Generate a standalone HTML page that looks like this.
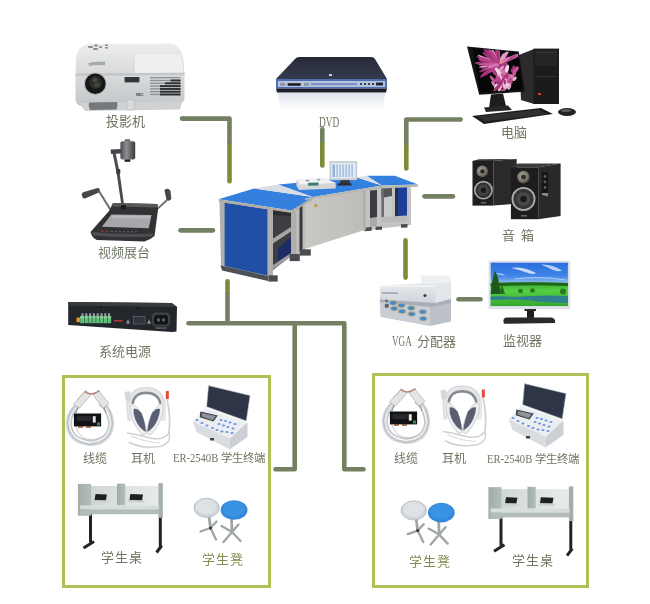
<!DOCTYPE html>
<html lang="zh-CN">
<head>
<meta charset="utf-8">
<title>系统结构图</title>
<style>
html,body{margin:0;padding:0;background:#fff;}
body{width:650px;height:604px;position:relative;overflow:hidden;font-family:"Liberation Serif",serif;}
svg.main{position:absolute;left:0;top:0;}
.lb{will-change:transform;position:absolute;font-family:"Liberation Serif",serif;font-size:13px;line-height:13px;color:#6d7560;white-space:nowrap;}
.lb.g{color:#7f8d50;}
.lb.s{font-size:12px;line-height:12px;}
.lat{display:inline-block;transform:scaleX(0.78);transform-origin:0 50%;}
</style>
</head>
<body>
<svg class="main" width="650" height="604" viewBox="0 0 650 604">
<defs>
  <linearGradient id="pjTop" x1="0" y1="0" x2="0" y2="1">
    <stop offset="0" stop-color="#eceded"/><stop offset="1" stop-color="#d6d8d9"/>
  </linearGradient>
  <linearGradient id="pjFront" x1="0" y1="0" x2="0" y2="1">
    <stop offset="0" stop-color="#dadcdd"/><stop offset="1" stop-color="#c3c6c8"/>
  </linearGradient>
  <linearGradient id="dvdTop" x1="0" y1="0" x2="0" y2="1">
    <stop offset="0" stop-color="#262a37"/><stop offset="1" stop-color="#353a4d"/>
  </linearGradient>
  <linearGradient id="dvdRefl" x1="0" y1="0" x2="0" y2="1">
    <stop offset="0" stop-color="#dde2ec"/><stop offset="1" stop-color="#ffffff"/>
  </linearGradient>
  <linearGradient id="camHead" x1="0" y1="0" x2="1" y2="0">
    <stop offset="0" stop-color="#4a4a4e"/><stop offset="0.4" stop-color="#8e8f92"/><stop offset="1" stop-color="#3a3a3e"/>
  </linearGradient>
  <linearGradient id="vgaTop" x1="0" y1="0" x2="0" y2="1">
    <stop offset="0" stop-color="#e9ecef"/><stop offset="1" stop-color="#cfd3d9"/>
  </linearGradient>
  <linearGradient id="deskPanel" x1="0" y1="0" x2="1" y2="0">
    <stop offset="0" stop-color="#c9c8c5"/><stop offset="1" stop-color="#bdbcb9"/>
  </linearGradient>
  <linearGradient id="sdBack" x1="0" y1="0" x2="1" y2="0">
    <stop offset="0" stop-color="#cfd7d3"/><stop offset="0.5" stop-color="#dde3e0"/><stop offset="1" stop-color="#e6ebe9"/>
  </linearGradient>
  <linearGradient id="sdPanel" x1="0" y1="0" x2="1" y2="0">
    <stop offset="0" stop-color="#a2ada8"/><stop offset="1" stop-color="#b4beb9"/>
  </linearGradient>
  <radialGradient id="twt" cx="0.4" cy="0.4" r="0.6">
    <stop offset="0" stop-color="#a29c90"/><stop offset="0.7" stop-color="#7d786e"/><stop offset="1" stop-color="#4a4843"/>
  </radialGradient>
  <linearGradient id="sky" x1="0" y1="0" x2="0" y2="1">
    <stop offset="0" stop-color="#2a6ee0"/><stop offset="0.3" stop-color="#3f84e6"/><stop offset="0.47" stop-color="#8ebcf0"/><stop offset="1" stop-color="#8ebcf0"/>
  </linearGradient>
  <linearGradient id="land" x1="0" y1="0" x2="0" y2="1">
    <stop offset="0" stop-color="#36a830"/><stop offset="0.35" stop-color="#55cf42"/><stop offset="1" stop-color="#34a82e"/>
  </linearGradient>
</defs>
<!-- connection lines -->
<g id="lines" fill="none" stroke-width="4.6">
  <!-- ln-olive segments (round caps) -->
  <g stroke="#7c8c37" stroke-linecap="round">
    <path d="M229.5,144 V181.3"/>
    <path d="M322.3,142.5 V165.5"/>
    <path d="M406.3,145 V168.4"/>
    <path d="M405.5,240.4 V277.6"/>
    <path d="M227.5,281.4 V293"/>
  </g>
  <!-- ln-gray segments -->
  <g stroke="#738062" stroke-linecap="round" stroke-linejoin="round">
    <path d="M180.5,230.35 H213"/>
    <path d="M424.5,196.35 H453"/>
    <path d="M458.5,299.25 H480.5"/>
    <path d="M188.5,323.3 H344.3 V469.2 H363.5"/>
    <path d="M294.7,323.3 V469.2 H275.5"/>
  </g>
  <g stroke="#738062" stroke-linecap="butt" stroke-linejoin="round">
    <path d="M182,118.6 H229.5 V144"/>
    <path d="M322.3,129.4 V142.5"/>
    <path d="M460.6,119.5 H406.3 V145"/>
    <path d="M227.5,293 V323.3"/>
  </g>
  <g fill="#738062">
    <circle cx="182" cy="118.6" r="2.3"/>
    <circle cx="322.3" cy="129.4" r="2.3"/>
    <circle cx="460.6" cy="119.5" r="2.3"/>
  </g>
</g>
<!-- projector -->
<g id="projector">
  <path d="M76,62 Q76,45 90,44 L170,43.5 Q181,44 183.5,60 L184.5,76 L75.5,77 Z" fill="url(#pjTop)"/>
  <path d="M75.5,74 L184.5,73 L184.5,99 Q183,104 177,105 L82,106.5 Q75.5,105 75.5,99 Z" fill="url(#pjFront)"/>
  <path d="M75.5,73.5 L184.5,72.5 L184.5,75 L75.5,76 Z" fill="#c4c7c9"/>
  <path d="M79,103 L182,101.5 L180,109.5 L85,111 Z" fill="#cfd1d3"/>
  <path d="M134,54.6 L180,54.6 Q183,58 183,72.5 L134,73 Z" fill="#eeefef"/>
  <path d="M134,54.6 L134,73" stroke="#cfd1d3" stroke-width="0.8"/>
  <path d="M88.4,63 Q96,61.2 105.3,61.8 L105,65.3 Q96,64.6 89,66 Z" fill="#a6a9ac"/>
  <g fill="#8a8d90">
    <rect x="88" y="46" width="5" height="2" rx="1"/><rect x="94" y="44.5" width="4" height="2" rx="1"/>
    <rect x="93" y="48" width="5" height="2" rx="1"/><rect x="99" y="46" width="3" height="2" rx="1"/>
    <rect x="105" y="44.5" width="3" height="1.5"/><rect x="105" y="47" width="3" height="1.5"/>
  </g>
  <circle cx="95.3" cy="83.7" r="11.2" fill="#b5b8ba"/>
  <circle cx="95.3" cy="83.7" r="10.3" fill="#161718"/>
  <circle cx="95.5" cy="82.5" r="6.5" fill="#2c2e2c"/>
  <ellipse cx="95" cy="80" rx="2.5" ry="2" fill="#5d4448"/>
  <ellipse cx="97" cy="85" rx="3" ry="2.5" fill="#3c4a3a"/>
  <rect x="124.6" y="77" width="14.8" height="5.4" fill="#34373a"/>
  <path d="M89,102.5 L117,102 Q118,106 116.5,109.5 L90,110 Q88,106 89,102.5 Z" fill="#76797c"/>
  <rect x="127" y="100" width="7" height="10" rx="1" fill="#d8dadb" stroke="#b8bbbd" stroke-width="0.6"/>
  <g fill="#8d9093">
    <rect x="150" y="77" width="30.5" height="1.3"/>
    <rect x="150" y="79.8" width="30.5" height="1.3"/>
    <rect x="150" y="82.6" width="30.5" height="1.3"/>
    <rect x="150" y="85.4" width="30.5" height="1.3"/>
    <rect x="150" y="88.2" width="30.5" height="1.3"/>
    <rect x="150" y="91" width="30.5" height="1.3"/>
    <rect x="150" y="93.8" width="30.5" height="1.3"/>
  </g>
  <g fill="#2e3033">
    <rect x="170.5" y="79.5" width="10" height="2"/>
    <rect x="165" y="82.3" width="15.5" height="2"/>
    <rect x="160" y="85.1" width="20.5" height="2"/>
    <rect x="160" y="87.9" width="20.5" height="2"/>
    <rect x="160" y="90.7" width="20.5" height="2"/>
    <rect x="160" y="93.5" width="20.5" height="2"/>
  </g>
  <text x="136" y="95.5" font-size="3.6" font-family="Liberation Sans" font-weight="bold" fill="#444">NEC</text>
</g>
<!-- DVD -->
<g id="dvd">
  <path d="M299,57 L371,57 Q374,57 375,59 L387,79 L276,79 L295,59 Q296.5,57 299,57 Z" fill="url(#dvdTop)"/>
  <path d="M276,79 L387,79 L387,88.5 L276,88.5 Z" fill="#4c6fb2"/>
  <path d="M278,81 L385,81 L385,87 L278,87 Z" fill="#b7c3da"/>
  <rect x="287.5" y="83.2" width="13.4" height="2.6" rx="1" fill="#15161c"/>
  <rect x="280" y="82.8" width="5" height="3" fill="#8d97ab"/>
  <rect x="304" y="82.8" width="5" height="3" fill="#8d97ab"/>
  <rect x="311" y="83" width="46" height="2.2" fill="#7e95c4"/>
  <g fill="#3a4258"><rect x="360" y="83" width="2" height="2"/><rect x="364" y="83" width="2" height="2"/><rect x="368" y="83" width="2" height="2"/><rect x="372" y="83" width="2" height="2"/></g>
  <rect x="376" y="82.5" width="7" height="3" fill="#20263a"/>
  <path d="M276,88.5 L387,88.5 L386,92.5 L277,92.5 Z" fill="#1a1c26"/>
  <path d="M278,93 L385,93 L383,110 L280,110 Z" fill="url(#dvdRefl)"/>
  <rect x="329" y="74" width="3" height="2" fill="#c8cde0"/>
</g>
<!-- computer -->
<g id="computer">
  <path d="M519,55 L534,49 L534,104 L521,100 Z" fill="#2b2b2d"/>
  <rect x="533.5" y="48.6" width="25.5" height="55.4" fill="#1b1b1c"/>
  <rect x="535" y="50" width="22.5" height="16" fill="#252527"/>
  <rect x="536" y="52" width="20" height="0.8" fill="#3a3a3c"/>
  <rect x="536" y="76" width="20" height="0.8" fill="#3a3a3c"/>
  <rect x="538" y="93" width="3" height="2" fill="#d23a2a"/>
  <path d="M467,46.6 L518.8,51.6 L524.9,91.7 L479.2,94.8 Z" fill="#141415"/>
  <path d="M472.6,48.1 L517.8,52.7 L522.9,89.7 L480.2,92.3 Z" fill="#060607"/>
  <clipPath id="scrClip"><path d="M472.6,48.1 L517.8,52.7 L522.9,89.7 L480.2,92.3 Z"/></clipPath>
  <g clip-path="url(#scrClip)">
    <ellipse cx="500" cy="68" rx="9" ry="9" fill="#a83c7e"/>
    <ellipse cx="504" cy="80" rx="9" ry="8" fill="#b84a8c"/>
    <ellipse cx="493.0" cy="56.6" rx="8.7" ry="1.9" transform="rotate(-129 493.0 56.6)" fill="#e39ac6"/>
    <ellipse cx="491.4" cy="54.7" rx="10.9" ry="1.3" transform="rotate(-129 491.4 54.7)" fill="#93306a"/>
    <ellipse cx="494.3" cy="55.0" rx="9.2" ry="1.8" transform="rotate(-118 494.3 55.0)" fill="#b8428a"/>
    <ellipse cx="495.1" cy="59.3" rx="5.6" ry="1.6" transform="rotate(-130 495.1 59.3)" fill="#cf64a6"/>
    <ellipse cx="498.2" cy="54.2" rx="9.0" ry="1.5" transform="rotate(-94 498.2 54.2)" fill="#e39ac6"/>
    <ellipse cx="498.9" cy="54.0" rx="9.1" ry="1.2" transform="rotate(-91 498.9 54.0)" fill="#b8428a"/>
    <ellipse cx="502.0" cy="59.4" rx="5.0" ry="1.1" transform="rotate(-57 502.0 59.4)" fill="#c8559c"/>
    <ellipse cx="496.8" cy="52.8" rx="10.3" ry="1.4" transform="rotate(-101 496.8 52.8)" fill="#a33477"/>
    <ellipse cx="504.3" cy="56.4" rx="8.4" ry="1.7" transform="rotate(-55 504.3 56.4)" fill="#e39ac6"/>
    <ellipse cx="494.3" cy="67.2" rx="5.1" ry="1.7" transform="rotate(-214 494.3 67.2)" fill="#e39ac6"/>
    <ellipse cx="510.9" cy="58.3" rx="12.0" ry="1.9" transform="rotate(-25 510.9 58.3)" fill="#cf64a6"/>
    <ellipse cx="488.1" cy="61.4" rx="10.2" ry="1.6" transform="rotate(-167 488.1 61.4)" fill="#b8428a"/>
    <ellipse cx="488.5" cy="68.2" rx="10.2" ry="1.5" transform="rotate(-202 488.5 68.2)" fill="#93306a"/>
    <ellipse cx="493.8" cy="62.1" rx="5.0" ry="1.1" transform="rotate(-160 493.8 62.1)" fill="#cf64a6"/>
    <ellipse cx="493.5" cy="67.8" rx="6.1" ry="1.9" transform="rotate(-215 493.5 67.8)" fill="#e39ac6"/>
    <ellipse cx="490.3" cy="57.6" rx="9.8" ry="1.5" transform="rotate(-144 490.3 57.6)" fill="#a33477"/>
    <ellipse cx="497.9" cy="52.7" rx="10.3" ry="1.3" transform="rotate(-95 497.9 52.7)" fill="#b8428a"/>
    <ellipse cx="494.4" cy="61.9" rx="4.6" ry="1.5" transform="rotate(-156 494.4 61.9)" fill="#b8428a"/>
    <ellipse cx="488.4" cy="65.8" rx="9.8" ry="1.1" transform="rotate(-189 488.4 65.8)" fill="#e39ac6"/>
    <ellipse cx="501.9" cy="58.3" rx="5.8" ry="1.6" transform="rotate(-64 501.9 58.3)" fill="#e39ac6"/>
    <ellipse cx="492.8" cy="52.5" rx="11.9" ry="1.8" transform="rotate(-118 492.8 52.5)" fill="#e39ac6"/>
    <ellipse cx="498.7" cy="58.1" rx="5.4" ry="1.5" transform="rotate(-93 498.7 58.1)" fill="#c8559c"/>
    <ellipse cx="489.1" cy="70.9" rx="11.0" ry="2.0" transform="rotate(-215 489.1 70.9)" fill="#a33477"/>
    <ellipse cx="487.7" cy="59.3" rx="11.1" ry="1.3" transform="rotate(-157 487.7 59.3)" fill="#e39ac6"/>
    <ellipse cx="507.9" cy="59.7" rx="9.0" ry="1.6" transform="rotate(-26 507.9 59.7)" fill="#b8428a"/>
    <ellipse cx="505.0" cy="61.0" rx="6.1" ry="1.3" transform="rotate(-27 505.0 61.0)" fill="#93306a"/>
    <ellipse cx="497.1" cy="52.3" rx="10.7" ry="1.4" transform="rotate(-99 497.1 52.3)" fill="#b8428a"/>
    <ellipse cx="489.7" cy="67.0" rx="8.9" ry="1.3" transform="rotate(-198 489.7 67.0)" fill="#a33477"/>
    <ellipse cx="490.7" cy="58.2" rx="9.2" ry="1.2" transform="rotate(-145 490.7 58.2)" fill="#a33477"/>
    <ellipse cx="493.7" cy="55.9" rx="8.8" ry="1.9" transform="rotate(-123 493.7 55.9)" fill="#c8559c"/>
    <ellipse cx="498.2" cy="56.5" rx="6.8" ry="1.3" transform="rotate(-96 498.2 56.5)" fill="#a33477"/>
    <ellipse cx="492.6" cy="62.6" rx="5.9" ry="1.8" transform="rotate(-168 492.6 62.6)" fill="#a33477"/>
    <ellipse cx="486.2" cy="63.5" rx="11.6" ry="1.9" transform="rotate(-178 486.2 63.5)" fill="#a33477"/>
    <ellipse cx="494.0" cy="65.8" rx="4.9" ry="1.2" transform="rotate(-200 494.0 65.8)" fill="#a33477"/>
    <ellipse cx="504.9" cy="60.3" rx="6.3" ry="1.7" transform="rotate(-32 504.9 60.3)" fill="#d676b0"/>
    <ellipse cx="490.2" cy="55.2" rx="11.3" ry="1.5" transform="rotate(-135 490.2 55.2)" fill="#a33477"/>
    <ellipse cx="488.1" cy="64.3" rx="9.9" ry="1.2" transform="rotate(-182 488.1 64.3)" fill="#c8559c"/>
    <ellipse cx="493.2" cy="55.4" rx="9.4" ry="1.7" transform="rotate(-124 493.2 55.4)" fill="#b8428a"/>
    <ellipse cx="487.1" cy="60.1" rx="11.4" ry="1.3" transform="rotate(-162 487.1 60.1)" fill="#b8428a"/>
    <ellipse cx="491.3" cy="67.1" rx="7.6" ry="1.3" transform="rotate(-202 491.3 67.1)" fill="#b8428a"/>
    <ellipse cx="491.0" cy="64.2" rx="7.3" ry="1.6" transform="rotate(-182 491.0 64.2)" fill="#c8559c"/>
    <ellipse cx="493.2" cy="65.8" rx="5.5" ry="1.5" transform="rotate(-197 493.2 65.8)" fill="#d676b0"/>
    <ellipse cx="507.8" cy="83.2" rx="2.9" ry="1.1" transform="rotate(-77 507.8 83.2)" fill="#c8559c"/>
    <ellipse cx="503.4" cy="75.9" rx="2.6" ry="1.6" transform="rotate(-102 503.4 75.9)" fill="#c8559c"/>
    <ellipse cx="503.6" cy="84.1" rx="5.0" ry="1.2" transform="rotate(-101 503.6 84.1)" fill="#e9b9d2"/>
    <ellipse cx="500.8" cy="69.0" rx="4.3" ry="1.2" transform="rotate(-46 500.8 69.0)" fill="#e6a8cc"/>
    <ellipse cx="500.4" cy="83.1" rx="4.7" ry="1.5" transform="rotate(-49 500.4 83.1)" fill="#a33477"/>
    <ellipse cx="492.7" cy="79.0" rx="4.2" ry="1.4" transform="rotate(-129 492.7 79.0)" fill="#c8559c"/>
    <ellipse cx="506.6" cy="69.8" rx="5.0" ry="1.9" transform="rotate(-72 506.6 69.8)" fill="#f1dbe6"/>
    <ellipse cx="499.9" cy="88.6" rx="3.6" ry="1.5" transform="rotate(-68 499.9 88.6)" fill="#e9b9d2"/>
    <ellipse cx="494.0" cy="84.5" rx="4.0" ry="1.5" transform="rotate(-127 494.0 84.5)" fill="#d676b0"/>
    <ellipse cx="515.0" cy="70.5" rx="4.2" ry="1.5" transform="rotate(-60 515.0 70.5)" fill="#c8559c"/>
    <ellipse cx="500.8" cy="71.2" rx="3.8" ry="1.8" transform="rotate(-75 500.8 71.2)" fill="#e6a8cc"/>
    <ellipse cx="507.8" cy="77.7" rx="3.3" ry="1.7" transform="rotate(-50 507.8 77.7)" fill="#d676b0"/>
    <ellipse cx="507.2" cy="85.7" rx="3.0" ry="1.3" transform="rotate(-62 507.2 85.7)" fill="#d676b0"/>
    <ellipse cx="506.0" cy="75.0" rx="3.7" ry="1.9" transform="rotate(-118 506.0 75.0)" fill="#a33477"/>
    <ellipse cx="493.0" cy="69.4" rx="4.6" ry="1.2" transform="rotate(-42 493.0 69.4)" fill="#b8428a"/>
    <ellipse cx="498.6" cy="72.7" rx="4.1" ry="1.5" transform="rotate(-93 498.6 72.7)" fill="#e6a8cc"/>
    <ellipse cx="509.2" cy="86.5" rx="3.3" ry="1.8" transform="rotate(-74 509.2 86.5)" fill="#e6a8cc"/>
    <ellipse cx="512.9" cy="68.9" rx="3.9" ry="1.4" transform="rotate(-66 512.9 68.9)" fill="#a33477"/>
    <ellipse cx="505.5" cy="82.1" rx="3.0" ry="1.8" transform="rotate(-94 505.5 82.1)" fill="#e6a8cc"/>
    <ellipse cx="497.7" cy="71.1" rx="4.1" ry="1.5" transform="rotate(-126 497.7 71.1)" fill="#f1dbe6"/>
    <ellipse cx="504.8" cy="82.1" rx="2.7" ry="1.3" transform="rotate(-97 504.8 82.1)" fill="#a33477"/>
    <ellipse cx="503.4" cy="71.9" rx="3.7" ry="1.7" transform="rotate(-129 503.4 71.9)" fill="#d676b0"/>
    <ellipse cx="497.4" cy="85.1" rx="4.9" ry="1.6" transform="rotate(-81 497.4 85.1)" fill="#a33477"/>
    <ellipse cx="495.8" cy="86.7" rx="3.1" ry="1.5" transform="rotate(-67 495.8 86.7)" fill="#f1dbe6"/>
    <ellipse cx="501.3" cy="77.9" rx="4.7" ry="1.1" transform="rotate(-112 501.3 77.9)" fill="#e9b9d2"/>
    <ellipse cx="505.7" cy="87.3" rx="4.9" ry="1.5" transform="rotate(-58 505.7 87.3)" fill="#f1dbe6"/>
    <ellipse cx="515.6" cy="70.2" rx="4.5" ry="1.9" transform="rotate(-52 515.6 70.2)" fill="#c8559c"/>
    <ellipse cx="497.1" cy="87.8" rx="4.9" ry="1.6" transform="rotate(-42 497.1 87.8)" fill="#a33477"/>
    <ellipse cx="514.4" cy="73.8" rx="2.5" ry="1.6" transform="rotate(-65 514.4 73.8)" fill="#c8559c"/>
    <ellipse cx="502.6" cy="80.1" rx="3.7" ry="1.1" transform="rotate(-61 502.6 80.1)" fill="#a33477"/>
    <ellipse cx="512.8" cy="77.4" rx="3.8" ry="1.7" transform="rotate(-127 512.8 77.4)" fill="#d676b0"/>
    <ellipse cx="503.3" cy="90.0" rx="3.8" ry="1.7" transform="rotate(-49 503.3 90.0)" fill="#b8428a"/>
    <ellipse cx="514.7" cy="78.8" rx="2.7" ry="1.3" transform="rotate(-45 514.7 78.8)" fill="#e9b9d2"/>
    <ellipse cx="505.4" cy="86.3" rx="2.9" ry="1.6" transform="rotate(-79 505.4 86.3)" fill="#e9b9d2"/>
    <circle cx="501" cy="62" r="1.6" fill="#d39a7e"/>
  </g>
  <path d="M491,94.5 L503,93.5 L506,106 L489,108 Z" fill="#1d1d1f"/>
  <path d="M484,107.5 L508,105.5 L512,110 L486,112 Z" fill="#262628"/>
  <path d="M472,116 L541,108 L553,114 L484,124 Z" fill="#1c1c1d"/>
  <path d="M477,116.5 L539,109.5 L547,114 L485,121.5 Z" fill="#303032"/>
  <ellipse cx="567" cy="112" rx="9" ry="4" fill="#222224"/>
  <ellipse cx="566" cy="110.5" rx="5" ry="1.5" fill="#5a5a5c"/>
</g>
<!-- doc camera -->
<g id="doccam">
  <path d="M110.6,149.5 L121,149 L121,153.5 L111,154 Z" fill="#46464a"/>
  <path d="M112.5,153 L115.5,152.5 L119.5,172 L124.5,207.5 L121.8,208 L116.5,172.5 Z" fill="#4c4c50"/>
  <rect x="116.3" y="169" width="4" height="5" rx="1" fill="#3c3c40"/>
  <rect x="124.6" y="139.2" width="5.7" height="2.6" rx="1" fill="#6a6a6e"/>
  <rect x="120.4" y="141.3" width="14.8" height="18.3" rx="2" fill="url(#camHead)"/>
  <rect x="124.6" y="159.4" width="5.7" height="2.4" fill="#1f1f22"/>
  <path d="M82,195.5 Q81,193 84,192 L97.5,188 Q100,188 100,190.5 L99,192.5 L85,198.5 Q82.5,199 82,195.5 Z" fill="#48484b"/>
  <path d="M98,191.5 L99.8,190.5 L111.2,209 L109.4,210 Z" fill="#707074"/>
  <path d="M164.5,190.5 Q165,188.5 167.5,188.7 Q170,189 170.5,191 L171.3,198.5 Q170.5,201 168,200.8 L166.5,200 Z" fill="#48484b"/>
  <path d="M166.2,199.5 L167.8,200.8 L155.5,211.8 L154,210.8 Z" fill="#707074"/>
  <path d="M113,203 L157.5,204 L158,210 L154.5,236 Q150,240 144.5,241.5 L97,240 Q92,238 90.5,232 L109,211 Z" fill="#323235"/>
  <path d="M113,203 L157.5,204 L157.8,207.5 L112.3,206.5 Z" fill="#58585c"/>
  <path d="M111.4,214.4 L151.6,215.1 L148.7,228.2 L101.9,226.8 Z" fill="#a6a7aa"/>
  <path d="M112.5,215.5 L150.3,216.1 L149.7,218.5 L111,218 Z" fill="#b8b9bb"/>
  <path d="M92,232 Q120,235 153.5,233.5 L152.5,236.5 Q120,238.5 93.5,235.5 Z" fill="#4e4e52"/>
  <g fill="#8a3a34"><rect x="101" y="230.2" width="2.5" height="1.5"/><rect x="105.5" y="230.5" width="2" height="1.4"/></g>
  <g fill="#5e5e62"><rect x="111" y="230.8" width="2" height="1.2"/><rect x="115" y="231" width="2" height="1.2"/><rect x="119" y="231.1" width="2" height="1.2"/><rect x="123" y="231.2" width="2" height="1.2"/><rect x="127" y="231.2" width="2" height="1.2"/><rect x="131" y="231.2" width="2" height="1.2"/><rect x="135" y="231.1" width="2" height="1.2"/></g>
  <rect x="121" y="205" width="5" height="4" fill="#1e1e20"/>
</g>
<!-- speakers -->
<g id="speakers">
  <path d="M472.5,161 L479,159.3 L516.7,159 L493.3,161 Z" fill="#3a3a3c"/>
  <rect x="472.5" y="160.9" width="20.8" height="44.7" fill="#1f1f20"/>
  <path d="M493.3,161 L516.7,159 L516.7,203.6 L493.3,205.6 Z" fill="#2a2a2b"/>
  <g stroke="#323234" stroke-width="0.5"><path d="M498,161 V205"/><path d="M503,160.5 V204.5"/><path d="M509,160 V204"/><path d="M513,159.5 V203.8"/></g>
  <circle cx="482.4" cy="171.4" r="5.8" fill="url(#twt)"/>
  <circle cx="482.4" cy="171.4" r="2.2" fill="#2a2927"/>
  <circle cx="483.4" cy="190.2" r="9.4" fill="#aaa7a1"/>
  <circle cx="483.4" cy="190.2" r="7.8" fill="#333335"/>
  <circle cx="483.4" cy="190.2" r="5.5" fill="#434345"/>
  <circle cx="483.4" cy="190.2" r="2.6" fill="#1b1b1c"/>
  <rect x="481" y="202" width="5" height="1.5" fill="#666"/>
  <path d="M510.9,167.3 L518,163.5 L560.6,163.5 L538.2,167.3 Z" fill="#3c3c3e"/>
  <rect x="510.9" y="167.3" width="27.3" height="51.9" fill="#1d1d1e"/>
  <path d="M538.2,167.3 L560.6,163.5 L560.6,216 L538.2,219.2 Z" fill="#29292a"/>
  <g stroke="#323234" stroke-width="0.5"><path d="M552,166 V217"/><path d="M556,165 V216.5"/></g>
  <rect x="542" y="172.2" width="6" height="20.8" fill="#141415"/>
  <circle cx="545" cy="176.5" r="1.4" fill="#5e5e60"/>
  <circle cx="545" cy="182" r="1.4" fill="#5e5e60"/>
  <circle cx="545" cy="187.5" r="1.4" fill="#5e5e60"/>
  <path d="M542,193 L548,193 L548,196.5 L542,195 Z" fill="#8a8a8c"/>
  <circle cx="523.5" cy="177.1" r="6.3" fill="url(#twt)"/>
  <circle cx="523.5" cy="177.1" r="2.4" fill="#2c2b29"/>
  <circle cx="523.5" cy="199" r="12" fill="#b0ada7"/>
  <circle cx="523.5" cy="199" r="10.2" fill="#353537"/>
  <circle cx="523.5" cy="199" r="7" fill="#48484a"/>
  <circle cx="523.5" cy="199" r="3.2" fill="#1b1b1c"/>
  <rect x="521" y="215" width="6" height="1.6" fill="#666"/>
</g>
<!-- power supply -->
<g id="power">
  <path d="M68.2,302 L171.7,303 L177,307 L176.5,331.5 L172,332 L68.2,325 Z" fill="#23272b"/>
  <path d="M68.2,302 L171.7,303 L177,307 L70,305.5 Z" fill="#383c41"/>
  <circle cx="101" cy="307.5" r="0.9" fill="#111"/>
  <circle cx="138" cy="308.5" r="0.9" fill="#111"/>
  <rect x="76.5" y="317.5" width="3.4" height="4.6" fill="#e39b2e"/>
  <rect x="80.2" y="316.2" width="30.9" height="7" fill="#62bf7c"/>
  <rect x="80.2" y="316.2" width="30.9" height="2" fill="#8fd9a0"/>
  <g fill="#9aa3ad">
    <rect x="81.5" y="313.3" width="2" height="3"/><rect x="85.3" y="313.3" width="2" height="3"/>
    <rect x="89.1" y="313.3" width="2" height="3"/><rect x="92.9" y="313.3" width="2" height="3"/>
    <rect x="96.7" y="313.3" width="2" height="3"/><rect x="100.5" y="313.3" width="2" height="3"/>
    <rect x="104.3" y="313.3" width="2" height="3"/><rect x="108.1" y="313.3" width="2" height="3"/>
  </g>
  <g fill="#2f6b45">
    <rect x="84.1" y="316.5" width="0.8" height="6.5"/><rect x="87.9" y="316.5" width="0.8" height="6.5"/>
    <rect x="91.7" y="316.5" width="0.8" height="6.5"/><rect x="95.5" y="316.5" width="0.8" height="6.5"/>
    <rect x="99.3" y="316.5" width="0.8" height="6.5"/><rect x="103.1" y="316.5" width="0.8" height="6.5"/>
    <rect x="106.9" y="316.5" width="0.8" height="6.5"/>
  </g>
  <rect x="113.9" y="320" width="9" height="1.6" fill="#a83838"/>
  <path d="M126,323.5 L128,319 L130,323.5 Z" fill="#8d9298"/>
  <path d="M147,323.8 L149,319.3 L151,323.8 Z" fill="#8d9298"/>
  <rect x="133.5" y="316.5" width="11.5" height="7.5" fill="#30343a" stroke="#6a7078" stroke-width="0.6"/>
  <path d="M154,312.6 L168,312.6 L170.3,315.5 L170.3,323.5 L168,326.5 L154,326.5 L151.9,323.5 L151.9,315.5 Z" fill="#3c4146"/>
  <path d="M155.5,315 L166.5,315 L168,317 L168,323 L166.5,324.5 L155.5,324.5 L154,323 L154,317 Z" fill="#121416"/>
  <rect x="157.5" y="318.5" width="2" height="3" fill="#7b8086"/>
  <rect x="162.5" y="318.5" width="2" height="3" fill="#7b8086"/>
  <rect x="155.5" y="327.3" width="11" height="1.5" fill="#5d6268"/>
</g>
<!-- VGA splitter -->
<g id="vga">
  <path d="M420,275.5 L448,275.5 Q451,277 451,281 L422.4,283 Z" fill="#eeeff1"/>
  <path d="M379.9,286 L422.4,283 L451,281.5 L451,299 L435.3,304.5 L379.9,302.6 Z" fill="url(#vgaTop)"/>
  <path d="M379.9,285.5 L435.3,285.5 L435.3,287 L379.9,287 Z" fill="#f3f4f6"/>
  <path d="M435.3,286 L451,281.5 L451,299 L435.3,304.5 Z" fill="#e3e6ea"/>
  <circle cx="425" cy="295.5" r="1.6" fill="#3b3e46"/>
  <path d="M382,292 L398,292.5 L398,294 L382,293.5 Z" fill="#9aa1ad"/>
  <path d="M379.9,299.5 L435.3,303 L451,299 L451,305.5 L435.3,310 L379.9,304 Z" fill="#a9afb8"/>
  <path d="M379.9,302 L430,307 L430,326 L380.5,317 Z" fill="#c9ced5"/>
  <path d="M430,307 L451,303 L451,321.5 L430,326 Z" fill="#bcc1c8"/>
  <g>
    <ellipse cx="393.2" cy="302.9" rx="4.2" ry="2.7" fill="#b9ac90"/>
    <ellipse cx="401.5" cy="305.2" rx="4.2" ry="2.7" fill="#b9ac90"/>
    <ellipse cx="411.2" cy="308" rx="4.2" ry="2.7" fill="#b9ac90"/>
    <ellipse cx="422.8" cy="311.7" rx="4.2" ry="2.7" fill="#b9ac90"/>
    <ellipse cx="394.2" cy="308.5" rx="4.2" ry="2.7" fill="#b9ac90"/>
    <ellipse cx="402" cy="311.2" rx="4.2" ry="2.7" fill="#b9ac90"/>
    <ellipse cx="411.7" cy="314" rx="4.2" ry="2.7" fill="#b9ac90"/>
    <ellipse cx="423.2" cy="318.6" rx="4.2" ry="2.7" fill="#b9ac90"/>
    <ellipse cx="393.2" cy="302.9" rx="3" ry="1.8" fill="#3f8bcc"/>
    <ellipse cx="401.5" cy="305.2" rx="3" ry="1.8" fill="#3f8bcc"/>
    <ellipse cx="411.2" cy="308" rx="3" ry="1.8" fill="#3f8bcc"/>
    <ellipse cx="422.8" cy="311.7" rx="3" ry="1.8" fill="#3f8bcc"/>
    <ellipse cx="394.2" cy="308.5" rx="3" ry="1.8" fill="#3f8bcc"/>
    <ellipse cx="402" cy="311.2" rx="3" ry="1.8" fill="#3f8bcc"/>
    <ellipse cx="411.7" cy="314" rx="3" ry="1.8" fill="#3f8bcc"/>
    <ellipse cx="423.2" cy="318.6" rx="3" ry="1.8" fill="#3f8bcc"/>
    </g>
  <circle cx="386.6" cy="300.8" r="1.3" fill="#5a6070"/>
  <circle cx="386.8" cy="305.7" r="2.2" fill="#5d6472"/>
</g>
<!-- monitor -->
<g id="monitor">
  <rect x="488.6" y="260.8" width="81.6" height="48.2" fill="#dde1e6"/>
  <rect x="490.7" y="262.7" width="77.2" height="43.4" fill="url(#sky)"/>
  <path d="M511,268 Q522,266 536,273 Q533,275 528,273 Q520,270 511,268 Z" fill="#dfeafb" opacity="0.85"/>
  <path d="M541,264.5 Q552,264 562,270.5 Q558,272 553,270 Q547,267 541,264.5 Z" fill="#dfeafb" opacity="0.8"/>
  <path d="M495,273.5 Q501,272.5 506,275.5 Q500,275.5 495,273.5 Z" fill="#dfeafb" opacity="0.7"/>
  <path d="M515,279 Q540,276 566,280" stroke="#c5dcf6" stroke-width="1.2" fill="none" opacity="0.7"/>
  <path d="M490.7,283.3 Q525,281.5 567.9,283 L567.9,306.1 L490.7,306.1 Z" fill="url(#land)"/>
  <path d="M490.7,283.3 Q525,281.5 567.9,283 L567.9,286 Q525,284.5 490.7,286.5 Z" fill="#1f651c"/>
  <path d="M490.7,296.5 Q505,296 515,297 Q540,294.5 567.9,296 L567.9,303 Q545,302.5 530,300.5 Q510,299 490.7,300 Z" fill="#2f7f8c"/>
  <path d="M490.7,294 L492.5,279 L495,270.5 L498,278 L501,294 Z" fill="#1d5a1a"/>
  <path d="M499,294 L502,284 L505,294 Z" fill="#2a6a22"/>
  <ellipse cx="520.5" cy="291" rx="2.5" ry="2.2" fill="#2a7a22"/>
  <ellipse cx="532.5" cy="290.5" rx="2.5" ry="2.2" fill="#2a7a22"/>
  <ellipse cx="563" cy="291.5" rx="3" ry="3" fill="#2a7a22"/>
  <path d="M527,309 L534,309 L534,318 L527,318 Z" fill="#1d1d1e"/>
  <path d="M524.5,309 L536,309 L536,311 L524.5,311 Z" fill="#2a2a2b"/>
  <path d="M507,317.5 L551,317.5 Q556,318 555,323 L504,323.8 Q502,318 507,317.5 Z" fill="#2a2a2b"/>
</g>
<!-- teacher desk -->
<g id="desk">
  <!-- right cabinet -->
  <path d="M364,189 L411,185.5 L411,225 L381,228.5 L364,231 Z" fill="#c3c3c3"/>
  <path d="M370,190.5 L377,190 L377,225 L370,226.5 Z" fill="#3c3d40"/>
  <path d="M370,218 L377,217 L377,225 L370,226.5 Z" fill="#a9aaac"/>
  <path d="M381.4,188.5 L392,188 L392,217 L381.4,218 Z" fill="#c9cacb"/>
  <path d="M381.4,188.5 L392,188 L392,196 L381.4,198 Z" fill="#55565a"/>
  <path d="M381.4,188.5 L384,188.4 L384,218 L381.4,218 Z" fill="#6a6b6e"/>
  <path d="M395,187.8 L407,187.3 L407,216 L395,216.8 Z" fill="#1d3f98"/>
  <path d="M395,187.8 L398,187.7 L398,216.6 L395,216.8 Z" fill="#2a2f3c"/>
  <path d="M381.4,217 L407,215.5 L407,221 L381.4,222.5 Z" fill="#b9babb"/>
  <path d="M401,224.3 L407.5,224 L407.5,227.4 L401,227.7 Z" fill="#4a4c51"/>
  <path d="M375.6,226.8 L382,226.5 L382,229.7 L375.6,230 Z" fill="#4a4c51"/>
  <path d="M364.6,227.4 L371.6,227 L371.6,230.8 L364.6,231.2 Z" fill="#4a4c51"/>
  <!-- center panel -->
  <path d="M305,198.5 L366,189.5 L366,229.5 L305,249 Z" fill="url(#deskPanel)"/>
  <path d="M363,190 L366,189.5 L366,229.5 L363,230.5 Z" fill="#b0b0b0"/>
  <circle cx="315.8" cy="205.5" r="1.7" fill="#b3a447"/>
  <!-- narrow cabinet between wings -->
  <path d="M296,205 L305.3,201 L305.3,252 L296,256 Z" fill="#bdbcba"/>
  <path d="M299.5,204 L302.5,203 L302.5,250 L299.5,251.5 Z" fill="#3a3b3e"/>
  <path d="M299.8,249.3 L310.8,249.3 L310.8,255.6 L299.8,255.6 Z" fill="#4a4c51"/>
  <!-- left wing cabinet -->
  <path d="M273,210 L291,212 L291,256 L273,270 Z" fill="#3d3e41"/>
  <path d="M273,210 L291,212 L291,216 L273,215 Z" fill="#2c2d30"/>
  <path d="M278,248 L291,237 L291,253 L278,264 Z" fill="#1f2d66"/>
  <path d="M273,238.5 L291,227 L291,231.5 L273,243.5 Z" fill="#a5a5a5"/>
  <path d="M273,265 L291,253 L291,256.5 L273,269.5 Z" fill="#9c9c9c"/>
  <path d="M291,211.5 L296,211 L296,257 L291,258.5 Z" fill="#b0aeab"/>
  <path d="M289.6,254 L299.8,254 L299.8,261.1 L289.6,261.1 Z" fill="#4a4c51"/>
  <path d="M219.5,201 L273,209.5 L273,277 L221,267.5 Z" fill="#b2b0ac"/>
  <path d="M224.6,202.8 L267.4,209.2 L267.4,275.5 L224.6,266 Z" fill="#1f4fa6"/>
  <path d="M220.5,265.5 L268,276 L268,281 L222,270.5 Z" fill="#4d5056"/>
  <path d="M268.3,275.3 L277.7,275.3 L277.7,281.6 L268.3,281.6 Z" fill="#4a4c51"/>
  <!-- top surfaces -->
  <path d="M218.5,199.2 L254,188.5 L313,197 L291.5,210.5 Z" fill="#3380df"/>
  <path d="M218.5,199.2 L291.5,210.5 L291.5,213 L219,201.8 Z" fill="#b2ada4"/>
  <path d="M291.5,210.5 L313,197 L313,199.5 L291.5,213 Z" fill="#aeaca8"/>
  <path d="M254,188.5 L278.5,184.5 L313,197 Z" fill="#dadee4"/>
  <path d="M278.5,184.5 L356,177.2 L382,185.5 L313,197 Z" fill="#3380df"/>
  <path d="M313,197 L382,185.5 L382,188 L305,200 L305,198.2 Z" fill="#b8b6b1"/>
  <path d="M356,177.2 L367,175.8 L382,185.5 Z" fill="#dadee4"/>
  <path d="M367,175.8 L394.8,175.8 L418,184.5 L382,185.5 Z" fill="#3380df"/>
  <path d="M382,185.5 L418,184.5 L418,186.8 L382,188 Z" fill="#b8b6b1"/>
  <!-- controller box -->
  <path d="M296.4,179.2 L325.3,178.5 L335.7,183 L335.7,188.5 L299,189.9 L296.4,185.5 Z" fill="#d5d6d8"/>
  <path d="M296.4,179.2 L325.3,178.5 L335.7,183 L300,184.5 Z" fill="#f1f2f3"/>
  <path d="M308.2,182.7 L318.5,182.4 L318.5,185.6 L308.2,185.8 Z" fill="#3a7f74"/>
  <ellipse cx="307.5" cy="180.6" rx="2" ry="0.8" fill="#8e9093"/>
  <ellipse cx="318.5" cy="179.8" rx="2" ry="0.8" fill="#8e9093"/>
  <!-- desk monitor -->
  <path d="M341,179.5 L349,179.5 L350.5,184 L339.5,184 Z" fill="#35363a"/>
  <rect x="337.5" y="183.5" width="14" height="2" fill="#2a2b2e"/>
  <rect x="329.5" y="161.1" width="27.7" height="19" fill="#c6cbd1"/>
  <rect x="331.2" y="162.8" width="24.4" height="15.6" fill="#e2eaf3"/>
  <g fill="#93b3da">
    <rect x="332.5" y="164.5" width="2.5" height="12.5"/><rect x="336.5" y="164.5" width="1.2" height="12.5"/>
    <rect x="339.5" y="164.5" width="1.2" height="12.5"/><rect x="342.5" y="164.5" width="1.2" height="12.5"/>
    <rect x="345.5" y="164.5" width="1.2" height="12.5"/><rect x="348.5" y="164.5" width="1.2" height="12.5"/>
    <rect x="351.5" y="164.5" width="1.2" height="12.5"/>
  </g>
</g>
<!-- student-side items (left box, reused for right box) -->
<g id="cableL">
  <path d="M80,402 Q68,410 67.5,423 Q68,442 90,444.5 Q111,443 112.5,424 Q112,409 101,401" fill="none" stroke="#d9dcdf" stroke-width="3.6"/>
  <path d="M80,402 Q68,410 67.5,423 Q68,442 90,444.5 Q111,443 112.5,424 Q112,409 101,401" fill="none" stroke="#a3a8ad" stroke-width="0.7"/>
  <path d="M82,404 Q71,412 71,424 Q72,439 91,441 Q108,439 109,424 Q108,411 99,404" fill="none" stroke="#c2c6ca" stroke-width="1.6"/>
  <path d="M76,411 Q72,427 82,437 Q92,443 104,436" fill="none" stroke="#b7bbbf" stroke-width="0.8"/>
  <path d="M73.5,404 L85.5,390.5 L91,395 L79,408.5 Z" fill="#e2e4e6" stroke="#a2a6aa" stroke-width="0.6"/>
  <path d="M77,400 L86,391" stroke="#c9a48c" stroke-width="0.8"/>
  <path d="M93,395 L98.5,390.5 L109,403.5 L103,408.5 Z" fill="#e2e4e6" stroke="#a2a6aa" stroke-width="0.6"/>
  <path d="M84.5,391.5 Q92,397 99.5,390.5" fill="none" stroke="#b98470" stroke-width="1.5"/>
  <path d="M78,407 L76,413" stroke="#8a8e92" stroke-width="1"/>
  <path d="M104,407 L106,413" stroke="#8a8e92" stroke-width="1"/>
  <rect x="73.9" y="413.5" width="27.2" height="12.9" fill="#111214"/>
  <rect x="76.5" y="416" width="15" height="5" fill="#26282c"/>
  <rect x="92.8" y="416.2" width="2.9" height="6.4" fill="#e8e8e8"/>
  <rect x="97" y="422.5" width="3" height="3" fill="#3e8a4a"/>
  <rect x="78" y="426" width="5" height="1.8" fill="#8b5a40"/>
  <rect x="86" y="426" width="5" height="1.8" fill="#8b5a40"/>
</g>
<g id="phonesL">
  <path d="M129.5,421 L128.8,405 Q130,389.3 146.3,389.3 Q162.5,389.5 164,405 L163.5,421" fill="none" stroke="#e4e6e8" stroke-width="4.2"/>
  <path d="M128.8,405 Q130,389.3 146.3,389.3 Q162.5,389.5 164,405" fill="none" stroke="#c4c7cb" stroke-width="0.6" transform="translate(0,-2)"/>
  <path d="M132.5,404 Q134,393 146.3,392.8 Q158.5,393 160.5,404" fill="none" stroke="#878b94" stroke-width="2.6"/>
  <path d="M130.5,411 Q129,403.5 134.5,405 Q143,411 146.5,431 Q146.5,436 142,434.5 Q132,424 130.5,411 Z" fill="#eceef0" stroke="#c2c5ca" stroke-width="0.7"/>
  <path d="M133.5,409 Q137,407.5 141.5,413 Q145.5,423 145.8,432 Q139,428 135.5,420 Q133,414 133.5,409 Z" fill="#5a5e73"/>
  <path d="M163,411 Q164.5,403.5 159,405 Q150,411 146.5,431 Q146.5,436 151,434.5 Q161,424 163,411 Z" fill="#eceef0" stroke="#c2c5ca" stroke-width="0.7"/>
  <path d="M160,409 Q156.5,407.5 152,413 Q148,423 147.3,432 Q154,428 157.5,420 Q160,414 160,409 Z" fill="#5a5e73"/>
  <path d="M127,433 Q140,435 150,438 Q163,441 169,433 Q172,443 160,446.5 Q140,449 129,442" fill="none" stroke="#cfd2d5" stroke-width="1.5"/>
  <path d="M131,436 Q145,442 160,443" fill="none" stroke="#dadde0" stroke-width="1.2"/>
  <path d="M167,399 Q171,417 169,433" fill="none" stroke="#d0d3d6" stroke-width="1.8"/>
  <rect x="165.8" y="391" width="3" height="8" fill="#e04a3a"/>
  <path d="M124.5,392 L130,391 L131,400 L125.5,401 Z" fill="#d5d8db"/>
  <path d="M127,400 Q127,415 129.5,421" fill="none" stroke="#d9dcdf" stroke-width="1.3"/>
</g>
<g id="termL">
  <path d="M208.5,385.6 L250.1,395.5 L246.3,421 L206.6,406.7 Z" fill="#2d3546" stroke="#cfd3d8" stroke-width="0.6"/>
  <path d="M192.7,421.6 L205,408 L247.5,422.5 L230,438.5 Z" fill="#eceef1"/>
  <path d="M192.7,421.6 L230,438.5 L229.5,449.5 L196.5,432 Z" fill="#d9dce0"/>
  <path d="M230,438.5 L247.5,422.5 L247.5,437 L229.5,449.5 Z" fill="#ccd0d5"/>
  <path d="M200.4,411.6 L217.8,415.4 L213.4,421.6 L199.8,417.2 Z" fill="#3b3f46"/>
  <path d="M202,413 L216,416 L212.5,420.2 L201.5,416.6 Z" fill="#8d939a"/>
  <rect x="210" y="438" width="4" height="2.5" fill="#444"/>
  <g fill="#6897e6">
    <ellipse cx="197" cy="420" rx="1.6" ry="1"/><ellipse cx="202" cy="423" rx="1.6" ry="1"/>
    <ellipse cx="207" cy="425.5" rx="1.6" ry="1"/><ellipse cx="212.5" cy="428" rx="1.6" ry="1"/>
    <ellipse cx="221" cy="420" rx="1.6" ry="1"/><ellipse cx="225.5" cy="421" rx="1.6" ry="1"/>
    <ellipse cx="230" cy="422.5" rx="1.6" ry="1"/><ellipse cx="235" cy="424" rx="1.6" ry="1"/>
    <ellipse cx="219" cy="424" rx="1.6" ry="1"/><ellipse cx="223.5" cy="425.5" rx="1.6" ry="1"/>
    <ellipse cx="228" cy="427" rx="1.6" ry="1"/><ellipse cx="233" cy="428.5" rx="1.6" ry="1"/>
    <ellipse cx="217" cy="430" rx="1.6" ry="1"/><ellipse cx="222" cy="431.5" rx="1.6" ry="1"/>
    <ellipse cx="227" cy="432" rx="1.6" ry="1"/><ellipse cx="232" cy="433" rx="1.6" ry="1"/>
  </g>
</g>
<g id="sdeskL">
  <g stroke="#232326" stroke-width="3" fill="none" stroke-linecap="butt">
    <path d="M90.5,513 V542.5"/>
    <path d="M83.5,548 L94,541.5"/>
    <path d="M160.3,517 V546.5"/>
    <path d="M156.5,552.5 L161.8,545.5"/>
  </g>
  <rect x="91" y="486" width="67.4" height="19.5" fill="url(#sdBack)"/>
  <rect x="77.9" y="483.9" width="13.3" height="31.8" fill="url(#sdPanel)"/>
  <rect x="117" y="483.6" width="8.2" height="21.7" fill="url(#sdPanel)"/>
  <rect x="158.4" y="483.2" width="4.4" height="34.7" fill="#a4afaa"/>
  <rect x="80.1" y="505.3" width="79" height="4" fill="#d6ddda"/>
  <rect x="80.1" y="509.3" width="79" height="4.9" fill="#b3bdb8"/>
  <path d="M95.5,494 L107,494.5 L105.8,500.4 L94.6,500 Z" fill="#1e2022"/>
  <path d="M93,500.2 L107.8,500.6 L108.5,502.6 L92.5,502.2 Z" fill="#c9cfcc"/>
  <path d="M130.3,494 L143,494.5 L142,500.4 L129.5,500 Z" fill="#1e2022"/>
  <path d="M128,500.2 L143.8,500.6 L144.5,502.6 L127.5,502.2 Z" fill="#c9cfcc"/>
</g>
<g id="stoolsL">
  <g stroke="#a0a5a8" stroke-width="2.3" stroke-linecap="round" fill="none">
    <path d="M209,516 L210.5,528" stroke-width="2.8"/>
    <path d="M210.5,528 L200.5,531.5"/>
    <path d="M210.5,528 L216,539.5"/>
    <path d="M210.5,528 L216.5,521.5"/>
    <path d="M231.5,519 L232,532" stroke-width="2.8"/>
    <path d="M232,532 L221.5,526"/>
    <path d="M232,532 L223.5,542"/>
    <path d="M232,532 L240.5,541"/>
    <path d="M232,532 L238.5,524.5"/>
  </g>
  <circle cx="210.5" cy="528" r="1.5" fill="#333"/>
  <ellipse cx="206.6" cy="507.8" rx="12.7" ry="9.6" fill="#cfd5da" stroke="#b3b9bf" stroke-width="0.8"/>
  <ellipse cx="206.3" cy="506.8" rx="10.5" ry="7.5" fill="#dde2e6"/>
  <ellipse cx="234.1" cy="510" rx="13.4" ry="9.85" fill="#3389dc"/>
  <ellipse cx="234" cy="509" rx="11" ry="7.8" fill="#3a92e3"/>
</g>
<use href="#cableL" transform="translate(316,-2)"/>
<use href="#phonesL" transform="translate(316,-1.5)"/>
<use href="#termL" transform="translate(316,-2)"/>
<use href="#sdeskL" transform="translate(410.5,3.2)"/>
<use href="#stoolsL" transform="translate(207.2,2.6)"/>
<!-- boxes -->
<rect x="63.5" y="376.5" width="206" height="210" fill="none" stroke="#adc256" stroke-width="3"/>
<rect x="373.5" y="374.5" width="214" height="212" fill="none" stroke="#adc256" stroke-width="3"/>
</svg>

<!-- labels -->
<div class="lb" style="left:106px;top:115px">投影机</div>
<div class="lb" style="left:319px;top:116px"><span class="lat" style="font-size:14.4px;transform:scaleX(0.65);margin-right:-10.9px">DVD</span></div>
<div class="lb" style="left:501px;top:126px">电脑</div>
<div class="lb" style="left:98px;top:246px">视频展台</div>
<div class="lb" style="left:502px;top:229px;word-spacing:2.7px">音 箱</div>
<div class="lb" style="left:99px;top:345px">系统电源</div>
<div class="lb" style="left:392px;top:335px"><span class="lat" style="font-size:14px;transform:scaleX(0.65);margin-right:-8.4px">VGA</span> 分配器</div>
<div class="lb" style="left:503px;top:334px">监视器</div>

<div class="lb s" style="left:83px;top:452.5px">线缆</div>
<div class="lb s" style="left:131px;top:452.5px">耳机</div>
<div class="lb s" style="left:173px;top:452px"><span class="lat" style="font-size:12px;transform:scaleX(0.88);margin-right:-6.1px">ER-2540B</span> <span style="font-size:11.4px">学生终端</span></div>
<div class="lb" style="left:101px;top:551px;letter-spacing:1px">学生桌</div>
<div class="lb g" style="left:202px;top:552.5px;letter-spacing:1px">学生凳</div>

<div class="lb s" style="left:394px;top:453px">线缆</div>
<div class="lb s" style="left:442px;top:453px">耳机</div>
<div class="lb s" style="left:487px;top:453px"><span class="lat" style="font-size:12px;transform:scaleX(0.88);margin-right:-6.1px">ER-2540B</span> <span style="font-size:11.4px">学生终端</span></div>
<div class="lb g" style="left:409px;top:554.5px;letter-spacing:1px">学生凳</div>
<div class="lb" style="left:512px;top:554px;letter-spacing:1px">学生桌</div>
</body>
</html>
